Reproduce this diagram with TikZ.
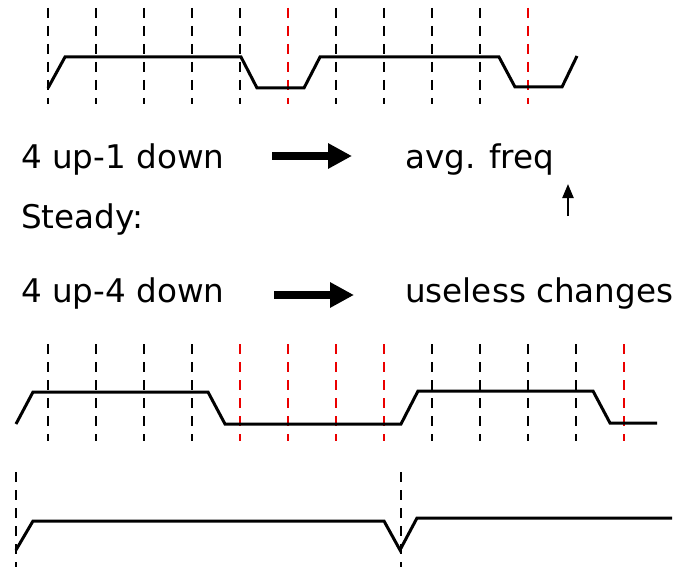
\documentclass[tikz,border=0pt]{standalone}
\usepackage{fontspec}
\setmainfont{DejaVu Sans}
\usetikzlibrary{arrows.meta}
\definecolor{markred}{RGB}{235,0,0}
\tikzset{
  grid/.style={line width=2pt, dash pattern=on 10pt off 8pt},
  gridred/.style={grid, line width=2.3pt, draw=markred},
  wave/.style={line width=3pt, line join=miter},
  label/.style={anchor=base west, inner sep=0pt, font=\fontsize{32.6}{38}\selectfont},
  bigarrow/.style={line width=8pt, -{Triangle[length=24pt,width=24pt]}},
  smallarrow/.style={line width=2.2pt, -{Triangle[length=14pt,width=11pt]}}
}
\begin{document}
\begin{tikzpicture}[x=1pt,y=-1pt]
\useasboundingbox (0,0) rectangle (683,567);

% ---- first clock: 4 up / 1 down ----
\foreach \i in {0,...,10}{
  \pgfmathsetmacro{\xx}{48+48*\i}
  \ifnum\i=5 \draw[gridred] (\xx,8) -- (\xx,104);
  \else\ifnum\i=10 \draw[gridred] (\xx,8) -- (\xx,104);
  \else \draw[grid] (\xx,8) -- (\xx,104); \fi\fi
}
\draw[wave] (48,88) -- (65,57) -- (241,57) -- (257,88) -- (304,88) -- (320,57)
  -- (499,57) -- (515,87) -- (562,87) -- (577,56);

% ---- text block ----
\node[label] (t1) at (21,168) {4 up-1 down};
\node[label] (r1) at (405,168) {avg. freq};
\node[label] (st) at (21,229) {Steady:};
\node[label] (t2) at (21,302) {4 up-4 down};
\node[label] (r2) at (405,302) {useless changes};

\coordinate (a1s) at (272,156);
\coordinate (a1e) at (352,156);
\coordinate (a2s) at (274,295);
\coordinate (a2e) at (354,295);
\draw[bigarrow] (a1s) -- (a1e);
\draw[bigarrow] (a2s) -- (a2e);

\coordinate (upb) at (568,216);
\coordinate (upt) at (568,184);
\draw[smallarrow] (upb) -- (upt);

% ---- second clock: 4 up / 4 down ----
\foreach \i in {0,...,12}{
  \pgfmathsetmacro{\xx}{48+48*\i}
  \ifnum\i<4 \draw[grid] (\xx,344) -- (\xx,441);
  \else\ifnum\i<8 \draw[gridred] (\xx,344) -- (\xx,441);
  \else\ifnum\i=12 \draw[gridred] (\xx,344) -- (\xx,441);
  \else \draw[grid] (\xx,344) -- (\xx,441); \fi\fi\fi
}
\draw[wave] (16,424) -- (33,392) -- (208,392) -- (225,424) -- (401,424) -- (418,391)
  -- (593,391) -- (610,423) -- (657,423);

% ---- third clock: steady ----
\draw[grid] (16,472) -- (16,567);
\draw[grid] (401,472) -- (401,567);
\draw[wave] (16,550) -- (33,521) -- (384,521) -- (400,550) -- (417,518) -- (672,518);
\end{tikzpicture}
\end{document}
